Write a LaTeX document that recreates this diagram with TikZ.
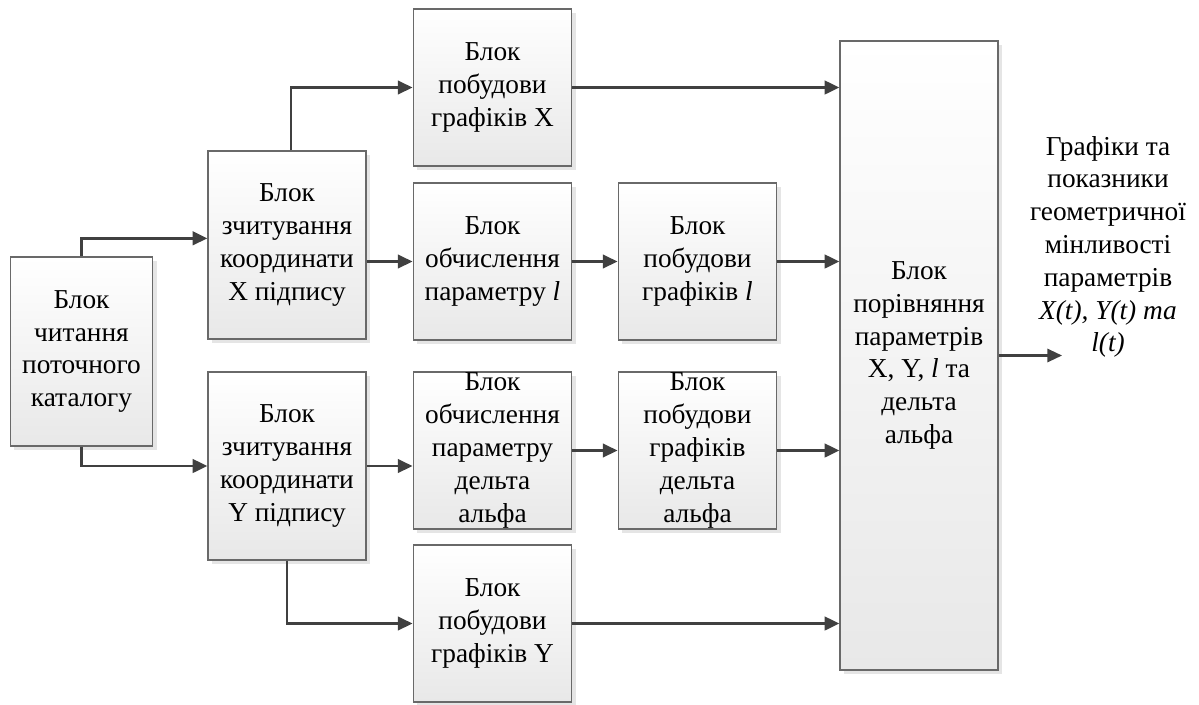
\documentclass[tikz,border=0pt]{standalone}
\usepackage{fontspec}
\setmainfont{Liberation Serif}
\definecolor{arrowgray}{RGB}{64, 64, 64}
\definecolor{boxline}{RGB}{105, 105, 105}
\usepackage{tikz}
\usetikzlibrary{arrows.meta, positioning, calc, shadows}

\begin{document}
\begin{tikzpicture}[x=0.75pt, y=-0.75pt,
    blok/.style={draw=boxline, line width=0.9pt, top color=white, bottom color=black!9,
      general shadow={fill=black!10, shadow xshift=3pt, shadow yshift=-3pt},
      align=center, inner sep=0pt, minimum width=119pt, minimum height=117.75pt,
      font=\fontsize{20.5}{24.6}\selectfont},
    potik/.style={draw=arrowgray, line width=2.2pt, -{Triangle[length=11pt, width=10pt]}}]
  \useasboundingbox (0, 0) rectangle (1199, 704);

  % left column
  \node[blok, minimum width=107pt, minimum height=141.75pt] (chyt) at (81.5, 351.5)
    {Блок\\читання\\поточного\\каталогу};
  \node[blok, minimum width=118.5pt, minimum height=141pt] (zchX) at (287, 245)
    {Блок\\зчитування\\координати\\X підпису};
  \node[blok, minimum width=118.5pt, minimum height=141pt] (zchY) at (287, 466)
    {Блок\\зчитування\\координати\\Y підпису};

  % middle blocks
  \node[blok] (grX) at (492.5, 87.5) {Блок\\побудови\\графіків X};
  \node[blok] (obL) at (492.5, 261.5) {Блок\\обчислення\\параметру \textit{l}};
  \node[blok] (grL) at (697.5, 261.5) {Блок\\побудови\\графіків \textit{l}};
  \node[blok] (obD) at (492.5, 450.5) {Блок\\обчислення\\параметру\\дельта\\альфа};
  \node[blok] (grD) at (697.5, 450.5) {Блок\\побудови\\графіків\\дельта\\альфа};
  \node[blok] (grY) at (492.5, 623.5) {Блок\\побудови\\графіків Y};

  % comparison block and result
  \node[blok, minimum width=118.5pt, minimum height=471.75pt] (porivn) at (919, 355.5)
    {Блок\\порівняння\\параметрів\\X, Y, \textit{l} та\\дельта\\альфа};
  \node[align=center, font=\fontsize{20.5}{24.6}\selectfont] (vyhid) at (1108, 247)
    {Графіки та\\показники\\геометричної\\мінливості\\параметрів\\\textit{X(t), Y(t) та}\\\textit{l(t)}};
  \coordinate (kin) at (1062, 355.5);

  \draw[potik] (chyt.north) |- ([yshift=5pt]zchX.west);
  \draw[potik] (chyt.south) |- (zchY.west);
  \draw[potik] ([xshift=3pt]zchX.north) |- (grX.west);
  \draw[potik] (zchX.east |- obL.west) -- (obL.west);
  \draw[potik] (obL) -- (grL);
  \draw[potik] (zchY.east) -- (zchY.east -| obD.west);
  \draw[potik] (obD) -- (grD);
  \draw[potik] (zchY.south) |- (grY.west);
  \draw[potik] (grX.east) -- (grX.east -| porivn.west);
  \draw[potik] (grL.east) -- (grL.east -| porivn.west);
  \draw[potik] (grD.east) -- (grD.east -| porivn.west);
  \draw[potik] (grY.east) -- (grY.east -| porivn.west);
  \draw[potik, line width=1.6pt] (porivn.east) -- (kin);
\end{tikzpicture}
\end{document}
